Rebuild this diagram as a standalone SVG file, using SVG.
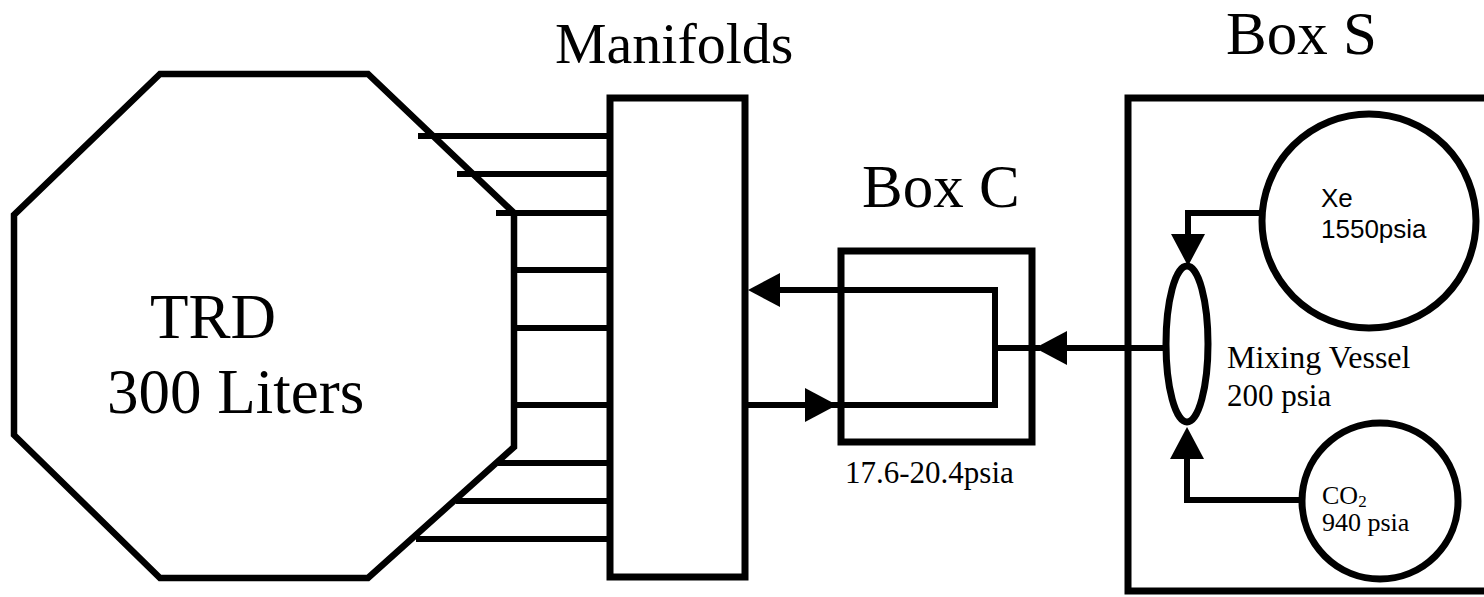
<svg xmlns="http://www.w3.org/2000/svg" width="1484" height="597" viewBox="0 0 1484 597">
<style>
.sh{fill:none;stroke:#000;stroke-width:7;stroke-linejoin:miter}
.ln{fill:none;stroke:#000;stroke-width:6;stroke-linecap:butt;stroke-linejoin:miter}
.serif{font-family:"Liberation Serif","Times New Roman",serif;fill:#000}
.sans{font-family:"Liberation Sans",Arial,sans-serif;fill:#000}
</style>
<defs>
<marker id="ah" viewBox="0 -17 32 34" refX="12" refY="0" markerWidth="32" markerHeight="34" markerUnits="userSpaceOnUse" orient="auto">
<path d="M0,-17 L32,0 L0,17 z" fill="#000"/>
</marker>
</defs>
<rect width="1484" height="597" fill="#fff"/>
<g id="trd">
<polygon class="sh" style="stroke-width:6.5" points="160,74 368,74 514,213 514,447 368,578 160,578 14,435 14,215"/>
<text class="serif" x="150" y="338" font-size="63">TRD</text>
<text class="serif" x="107" y="413" font-size="63">300 Liters</text>
</g>
<g id="manifolds">
<rect class="sh" x="610" y="98" width="135" height="479"/>
<text class="serif" x="555" y="63" font-size="58">Manifolds</text>
</g>
<g id="boxC">
<rect class="sh" x="841" y="251" width="191" height="191"/>
<text class="serif" x="862" y="207" font-size="61">Box C</text>
<text class="serif" x="845" y="483" font-size="31">17.6-20.4psia</text>
</g>
<g id="boxS">
<rect class="sh" x="1128" y="98" width="380" height="493"/>
<text class="serif" x="1226" y="54" font-size="61">Box S</text>
</g>
<g id="xe">
<circle class="sh" cx="1369" cy="221" r="107"/>
<text class="sans" x="1321" y="207" font-size="26">Xe</text>
<text class="sans" x="1321" y="238" font-size="26">1550psia</text>
</g>
<g id="mixing">
<ellipse class="sh" cx="1187" cy="344" rx="21" ry="78"/>
<text class="serif" x="1227" y="368" font-size="32">Mixing Vessel</text>
<text class="serif" x="1227" y="406" font-size="31">200 psia</text>
</g>
<g id="co2">
<circle class="sh" cx="1380" cy="501" r="78"/>
<text class="serif" x="1322" y="504" font-size="26">CO<tspan font-size="17" dy="3">2</tspan></text>
<text class="serif" x="1322" y="531" font-size="26">940 psia</text>
</g>
<g id="connectors">
<path class="ln" d="M418,136 H610 M457,174 H610 M496,213 H610 M514,270 H610 M514,328 H610 M514,405 H610 M498,463 H610 M456,501 H610 M416,539 H610"/>
<path class="ln" d="M995,290 H768" marker-end="url(#ah)"/>
<path class="ln" d="M995,287 V408"/>
<path class="ln" d="M745,405 H817" marker-end="url(#ah)"/>
<path class="ln" d="M817,405 H995"/>
<path class="ln" d="M1166,348 H1055" marker-end="url(#ah)"/>
<path class="ln" d="M995,348 H1040"/>
<path class="ln" d="M1262,213 H1188 V246" marker-end="url(#ah)"/>
<path class="ln" d="M1302,500 H1187 V447" marker-end="url(#ah)"/>
</g>
</svg>
